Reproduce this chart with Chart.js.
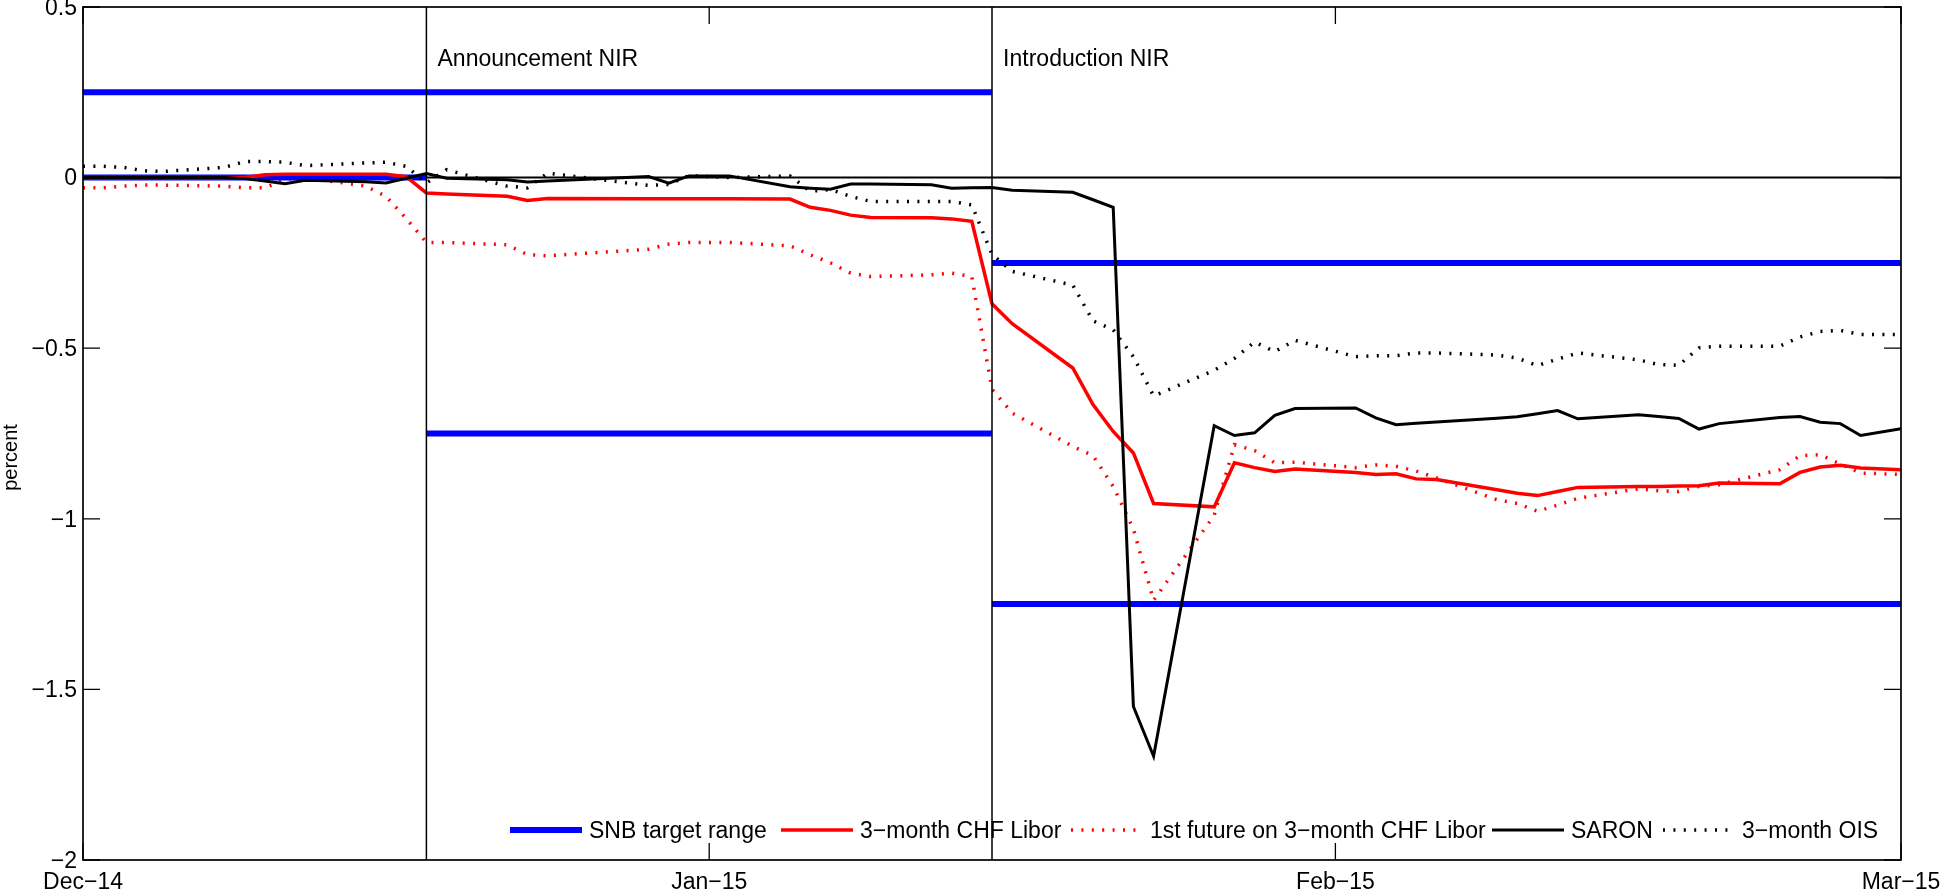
<!DOCTYPE html>
<html>
<head>
<meta charset="utf-8">
<title>SNB target range and Swiss franc money market rates</title>
<script src="https://cdn.jsdelivr.net/npm/chart.js@4.4.1/dist/chart.umd.min.js"></script>
<style>
  html, body { margin: 0; padding: 0; background: #fff; }
  #chart-wrap { width: 1940px; height: 890px; }
</style>
</head>
<body>
<div id="chart-wrap"><canvas id="rates-chart" width="1940" height="890"></canvas></div>
<script>
// x values are days counted from 1 December 2014
const monthTickDays = [0, 31, 62, 90];
const monthTickLabels = ['Dec\u221214', 'Jan\u221215', 'Feb\u221215', 'Mar\u221215'];

const eventDays = [17, 45];
const eventLabels = ['Announcement NIR', 'Introduction NIR'];

// SNB target range, upper and lower bound (null splits the segments)
const targetUpperDays = [0, 45, 45, 45, 90];
const targetUpperValues = [0.25, 0.25, null, -0.25, -0.25];
const targetLowerDays = [0, 17, 17, 17, 45, 45, 45, 90];
const targetLowerValues = [0, 0, null, -0.75, -0.75, null, -1.25, -1.25];

// trading days
const days = [
  0, 1, 2, 3, 4, 7, 8, 9, 10, 11, 14, 15, 16, 17, 18, 21, 22, 23, 28, 29, 30, 32,
  35, 36, 37, 38, 39, 42, 43, 44, 45, 46, 49, 50, 51, 52, 53, 56, 57, 58, 59, 60,
  63, 64, 65, 66, 67, 70, 71, 72, 73, 74, 77, 78, 79, 80, 81, 84, 85, 86, 87, 88, 90
];

const liborValues = [
  0, 0, 0, 0, 0, 0, 0, 0.008, 0.01, 0.01, 0.01, 0.01, 0.003, -0.045, -0.048,
  -0.055, -0.067, -0.061, -0.062, -0.062, -0.062, -0.062,
  -0.063, -0.087, -0.096, -0.110, -0.117, -0.118, -0.121, -0.128, -0.370, -0.428,
  -0.558, -0.665, -0.744, -0.807, -0.955, -0.965, -0.836, -0.850, -0.861, -0.854,
  -0.864, -0.870, -0.868, -0.883, -0.885, -0.915, -0.925, -0.932, -0.920, -0.908,
  -0.905, -0.905, -0.904, -0.903, -0.895, -0.897, -0.864, -0.848, -0.843, -0.851, -0.856
];

const futureValues = [
  -0.030, -0.030, -0.025, -0.022, -0.022, -0.025, -0.030, -0.030, -0.005, 0.000,
  -0.025, -0.055, -0.120, -0.190, -0.190, -0.197, -0.226, -0.229, -0.210, -0.195, -0.190, -0.190,
  -0.200, -0.226, -0.250, -0.280, -0.290, -0.285, -0.280, -0.290, -0.620, -0.690,
  -0.788, -0.815, -0.905, -1.030, -1.239, -0.990, -0.783, -0.800, -0.836, -0.834,
  -0.850, -0.842, -0.846, -0.860, -0.880, -0.944, -0.955, -0.978, -0.960, -0.940,
  -0.912, -0.918, -0.920, -0.905, -0.900, -0.856, -0.815, -0.812, -0.840, -0.866, -0.870
];

const saronValues = [
  0, 0, 0, 0, 0, 0, -0.003, -0.010, -0.018, -0.008, -0.012, -0.016, -0.002, 0.012, -0.002,
  -0.006, -0.013, -0.010, 0.003, -0.016, 0.005, 0.005,
  -0.027, -0.031, -0.034, -0.019, -0.019, -0.021, -0.031, -0.030, -0.029, -0.037,
  -0.043, -0.065, -0.087, -1.550, -1.696, -0.727, -0.756, -0.748, -0.697, -0.677,
  -0.675, -0.704, -0.724, -0.720, -0.716, -0.705, -0.701, -0.692, -0.683, -0.707,
  -0.695, -0.700, -0.706, -0.737, -0.721, -0.703, -0.700, -0.717, -0.721, -0.756, -0.736
];

const oisValues = [
  0.033, 0.033, 0.030, 0.020, 0.018, 0.030, 0.047, 0.047, 0.045, 0.035,
  0.043, 0.045, 0.033, -0.016, 0.023, -0.025, -0.030, 0.013, -0.023, -0.020, 0.006, 0.000,
  0.005, -0.040, -0.035, -0.055, -0.070, -0.070, -0.070, -0.080, -0.225, -0.275,
  -0.315, -0.420, -0.446, -0.525, -0.640, -0.565, -0.530, -0.482, -0.510, -0.477,
  -0.525, -0.522, -0.522, -0.514, -0.514, -0.520, -0.529, -0.551, -0.532, -0.514,
  -0.534, -0.548, -0.550, -0.499, -0.494, -0.494, -0.467, -0.451, -0.448, -0.460, -0.460
];

const FONT_FAMILY = '"Liberation Sans", Arial, Helvetica, sans-serif';
const FONT_SIZE = 23;
const DOTTED = [2, 8.4];

function toPoints(xs, ys) {
  return xs.map((x, i) => ({ x: x, y: ys[i] }));
}

function formatTick(value) {
  if (value === 0) return '0';
  const text = String(Math.abs(value));
  return value < 0 ? '\u2212' + text : text;
}

const frame = {
  id: 'frame',
  beforeDatasetsDraw(chart) {
    const { ctx, chartArea: area, scales } = chart;
    const y0 = scales.y.getPixelForValue(0);
    ctx.save();
    ctx.strokeStyle = '#000';
    ctx.lineWidth = 2;
    ctx.beginPath();
    ctx.moveTo(area.left, y0);
    ctx.lineTo(area.right, y0);
    ctx.stroke();
    ctx.restore();
  },
  afterDatasetsDraw(chart) {
    const { ctx, chartArea: area, scales } = chart;
    const xs = scales.x;
    const ys = scales.y;
    ctx.save();

    // event lines and their labels
    ctx.strokeStyle = '#000';
    ctx.lineWidth = 1.5;
    ctx.fillStyle = '#000';
    ctx.font = FONT_SIZE + 'px ' + FONT_FAMILY;
    ctx.textBaseline = 'alphabetic';
    ctx.textAlign = 'left';
    eventDays.forEach((day, i) => {
      const px = xs.getPixelForValue(day);
      ctx.beginPath();
      ctx.moveTo(px, area.top);
      ctx.lineTo(px, area.bottom);
      ctx.stroke();
      ctx.fillText(eventLabels[i], xs.getPixelForValue(day + 0.55), ys.getPixelForValue(0.326));
    });

    // axes box
    ctx.lineWidth = 1.7;
    ctx.strokeRect(area.left, area.top, area.right - area.left, area.bottom - area.top);

    // inward tick marks on all sides
    const tickLen = 17;
    ctx.lineWidth = 1.3;
    ctx.beginPath();
    ys.ticks.forEach(t => {
      const py = ys.getPixelForValue(t.value);
      ctx.moveTo(area.left, py);
      ctx.lineTo(area.left + tickLen, py);
      ctx.moveTo(area.right, py);
      ctx.lineTo(area.right - tickLen, py);
    });
    xs.ticks.forEach(t => {
      const px = xs.getPixelForValue(t.value);
      ctx.moveTo(px, area.bottom);
      ctx.lineTo(px, area.bottom - tickLen);
      ctx.moveTo(px, area.top);
      ctx.lineTo(px, area.top + tickLen);
    });
    ctx.stroke();

    // y axis label, rotated
    ctx.save();
    ctx.font = '20px ' + FONT_FAMILY;
    ctx.textAlign = 'center';
    ctx.textBaseline = 'middle';
    ctx.translate(11, (area.top + area.bottom) / 2 + 24);
    ctx.rotate(-Math.PI / 2);
    ctx.fillText('percent', 0, 0);
    ctx.restore();

    // legend, one row inside the plot; entries sit where the original placed them
    const items = chart.data.datasets
      .filter(ds => ds.legendIndex !== undefined)
      .sort((a, b) => a.legendIndex - b.legendIndex);
    const textStarts = [589, 860, 1150, 1571, 1742];
    const sampleLen = 72;
    const ly = area.bottom - 30;
    items.forEach((ds, i) => {
      const tx = textStarts[i];
      const sx = tx - sampleLen - 7;
      ctx.save();
      ctx.strokeStyle = ds.borderColor;
      ctx.lineWidth = ds.borderWidth;
      ctx.lineCap = 'butt';
      ctx.setLineDash(ds.borderDash || []);
      ctx.beginPath();
      ctx.moveTo(sx, ly);
      ctx.lineTo(sx + sampleLen, ly);
      ctx.stroke();
      ctx.restore();
      ctx.fillText(ds.label, tx, ly + FONT_SIZE * 0.358);
    });
    ctx.restore();
  }
};

const lineDefaults = {
  pointRadius: 0,
  pointHoverRadius: 0,
  tension: 0,
  fill: false,
  spanGaps: false,
  borderCapStyle: 'butt'
};

new Chart(document.getElementById('rates-chart'), {
  type: 'line',
  data: {
    datasets: [
      Object.assign({}, lineDefaults, {
        label: 'SARON',
        legendIndex: 3,
        data: toPoints(days, saronValues),
        borderColor: '#000000',
        borderWidth: 3,
        order: 0
      }),
      Object.assign({}, lineDefaults, {
        label: '3\u2212month OIS',
        legendIndex: 4,
        data: toPoints(days, oisValues),
        borderColor: '#000000',
        borderWidth: 3.5,
        borderDash: DOTTED,
        order: 1
      }),
      Object.assign({}, lineDefaults, {
        label: '3\u2212month CHF Libor',
        legendIndex: 1,
        data: toPoints(days, liborValues),
        borderColor: '#ff0000',
        borderWidth: 3.5,
        order: 2
      }),
      Object.assign({}, lineDefaults, {
        label: 'SNB target range',
        legendIndex: 0,
        data: toPoints(targetUpperDays, targetUpperValues),
        borderColor: '#0000ff',
        borderWidth: 6,
        order: 3
      }),
      Object.assign({}, lineDefaults, {
        label: 'SNB target range (lower)',
        data: toPoints(targetLowerDays, targetLowerValues),
        borderColor: '#0000ff',
        borderWidth: 6,
        order: 3
      }),
      Object.assign({}, lineDefaults, {
        label: '1st future on 3\u2212month CHF Libor',
        legendIndex: 2,
        data: toPoints(days, futureValues),
        borderColor: '#ff0000',
        borderWidth: 3.5,
        borderDash: DOTTED,
        order: 4
      })
    ]
  },
  options: {
    responsive: false,
    animation: false,
    events: [],
    layout: { padding: { top: 7, right: 39, left: 0, bottom: 0 } },
    plugins: {
      legend: { display: false },
      tooltip: { enabled: false }
    },
    scales: {
      x: {
        type: 'linear',
        min: 0,
        max: 90,
        grid: { display: false, drawTicks: false },
        border: { display: false },
        afterBuildTicks(scale) {
          scale.ticks = monthTickDays.map(v => ({ value: v }));
        },
        afterFit(scale) {
          scale.height = 30;
          scale.paddingLeft = 0;
          scale.paddingRight = 0;
        },
        ticks: {
          autoSkip: false,
          maxRotation: 0,
          padding: 9,
          color: '#000',
          font: { family: FONT_FAMILY, size: FONT_SIZE },
          callback(value) {
            const i = monthTickDays.indexOf(value);
            return i >= 0 ? monthTickLabels[i] : '';
          }
        }
      },
      y: {
        min: -2,
        max: 0.5,
        grid: { display: false, drawTicks: false },
        border: { display: false },
        afterFit(scale) {
          scale.width = 83;
          scale.paddingTop = 0;
          scale.paddingBottom = 0;
        },
        ticks: {
          stepSize: 0.5,
          padding: 6,
          labelOffset: 1.5,
          color: '#000',
          font: { family: FONT_FAMILY, size: FONT_SIZE },
          callback(value) {
            return formatTick(value);
          }
        }
      }
    }
  },
  plugins: [frame]
});
</script>
</body>
</html>
